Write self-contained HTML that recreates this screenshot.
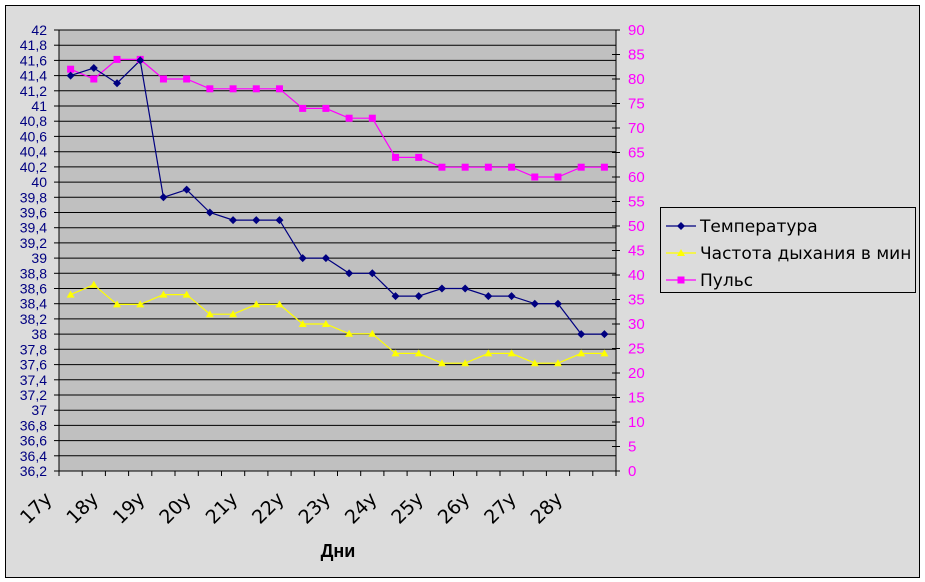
<!DOCTYPE html>
<html><head><meta charset="utf-8"><style>
body{margin:0;background:#fff}
svg{display:block;font-family:"Liberation Sans","DejaVu Sans",sans-serif}
</style></head><body>
<svg id="s" width="925" height="582" xmlns="http://www.w3.org/2000/svg"></svg>
<script>
const s=document.getElementById('s');let h='';
h+='<rect x="0" y="0" width="925" height="582" fill="#fff"/>';
h+='<rect x="5.5" y="5.5" width="914" height="572" fill="#dcdcdc" stroke="#000"/>';
const X0=59,X1=616,Y0=30,Y1=471;
h+=`<rect x="${X0}" y="${Y0}" width="${X1-X0}" height="${Y1-Y0}" fill="#c0c0c0"/>`;
const ty=v=>Y0+(42-v)/5.8*(Y1-Y0);
const py=v=>Y1-v/90*(Y1-Y0);
for(let i=0;i<=29;i++){const y=(Y0+i*(Y1-Y0)/29).toFixed(1);
 h+=`<line x1="${X0}" x2="${X1}" y1="${y}" y2="${y}" stroke="#000" stroke-width="1"/>`;
 h+=`<line x1="${X0-5}" x2="${X0}" y1="${y}" y2="${y}" stroke="#000"/>`;
 const v=(42-i*0.2).toFixed(1).replace('.0','').replace('.',',');
 h+=`<text x="${X0-12}" y="${+y+5}" font-size="14" fill="#000080" text-anchor="end">${v}</text>`;}
for(let i=0;i<=18;i++){const y=(Y1-i*(Y1-Y0)/18).toFixed(1);
 h+=`<line x1="${X1-4}" x2="${X1+4}" y1="${y}" y2="${y}" stroke="#000"/>`;
 h+=`<text x="${X1+12}" y="${+y+5}" font-size="15" fill="#ff00ff">${i*5}</text>`;}
h+=`<line x1="${X0}" x2="${X0}" y1="${Y0}" y2="${Y1}" stroke="#000"/>`;
h+=`<line x1="${X1}" x2="${X1}" y1="${Y0}" y2="${Y1}" stroke="#000"/>`;
h+=`<line x1="${X0}" x2="${X1}" y1="${Y1}" y2="${Y1}" stroke="#000"/>`;
const dx=(X1-X0)/24;
for(let i=0;i<=24;i++){const x=(X0+i*dx).toFixed(1);h+=`<line x1="${x}" x2="${x}" y1="${Y1}" y2="${Y1+5}" stroke="#000"/>`;}
for(let i=0;i<12;i++){const x=X0+2*i*dx-6,y=500;
 h+=`<text transform="translate(${x},${y}) rotate(-45)" font-size="19" font-family="DejaVu Sans" text-anchor="end" fill="#000">${17+i}у</text>`;}
h+=`<text x="338" y="557" font-size="18" font-weight="bold" text-anchor="middle">Дни</text>`;
const T=[41.4,41.5,41.3,41.6,39.8,39.9,39.6,39.5,39.5,39.5,39,39,38.8,38.8,38.5,38.5,38.6,38.6,38.5,38.5,38.4,38.4,38,38];
const P=[82,80,84,84,80,80,78,78,78,78,74,74,72,72,64,64,62,62,62,62,60,60,62,62];
const R=[36,38,34,34,36,36,32,32,34,34,30,30,28,28,24,24,22,22,24,24,22,22,24,24];
const cx=i=>X0+(i+0.5)*dx;
function line(d,f,c){return `<polyline fill="none" stroke="${c}" stroke-width="1.2" points="${d.map((v,i)=>cx(i).toFixed(1)+','+f(v).toFixed(1)).join(' ')}"/>`;}
h+=line(R,py,'#ffff00');h+=line(P,py,'#ff00ff');h+=line(T,ty,'#000080');
R.forEach((v,i)=>{const x=cx(i),y=py(v);h+=`<polygon points="${x},${y-4} ${x-4},${y+3} ${x+4},${y+3}" fill="#ffff00"/>`;});
P.forEach((v,i)=>{const x=cx(i),y=py(v);h+=`<rect x="${x-3.5}" y="${y-3.5}" width="7" height="7" fill="#ff00ff"/>`;});
T.forEach((v,i)=>{const x=cx(i),y=ty(v);h+=`<polygon points="${x},${y-4} ${x+4},${y} ${x},${y+4} ${x-4},${y}" fill="#000080"/>`;});
h+='<rect x="660.5" y="207.5" width="255" height="85" fill="#dcdcdc" stroke="#000"/>';
const L=[['Температура','#000080','d'],['Частота дыхания в мин','#ffff00','t'],['Пульс','#ff00ff','s']];
L.forEach((l,i)=>{const y=226+i*27;h+=`<line x1="666" x2="696" y1="${y}" y2="${y}" stroke="${l[1]}" stroke-width="1.2"/>`;
 const x=681;
 if(l[2]=='d')h+=`<polygon points="${x},${y-4} ${x+4},${y} ${x},${y+4} ${x-4},${y}" fill="${l[1]}"/>`;
 if(l[2]=='t')h+=`<polygon points="${x},${y-4} ${x-4},${y+3} ${x+4},${y+3}" fill="${l[1]}"/>`;
 if(l[2]=='s')h+=`<rect x="${x-3.5}" y="${y-3.5}" width="7" height="7" fill="${l[1]}"/>`;
 h+=`<text x="700" y="${y+6}" font-size="17" font-family="DejaVu Sans" fill="#000">${l[0]}</text>`;});
s.innerHTML=h;
</script>
</body></html>
